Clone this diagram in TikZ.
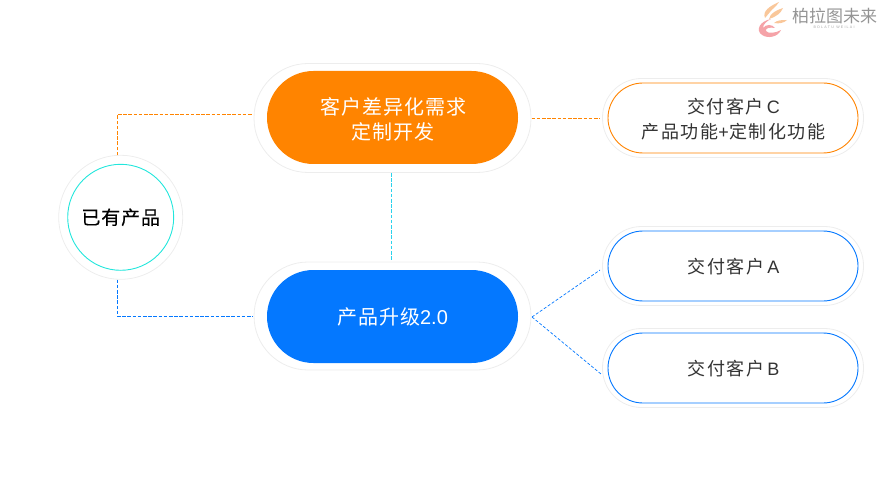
\documentclass[tikz,border=0pt]{standalone}
\usepackage{fontspec}
\setmainfont{Noto Sans CJK SC}
\newfontfamily\bigf[LetterSpace=5]{Noto Sans CJK SC}
\newfontfamily\smallf[LetterSpace=8.5]{Noto Sans CJK SC}
\newfontfamily\boldf[FakeBold=0.25,LetterSpace=4.5]{Noto Sans CJK SC}
\newfontfamily\latf{Liberation Sans}
\begin{document}
\begin{tikzpicture}[x=1pt,y=-1pt,
  halo/.style={draw=black!7,line width=0.8pt,fill=white,rounded corners=#1},
  ring/.style={line width=0.9pt,fill=white},
  conn/.style={line width=0.8pt,dash pattern=on 3.6pt off 1.6pt},
  thinconn/.style={line width=0.7pt,dash pattern=on 3pt off 1.8pt},
  lbl/.style={align=center,inner sep=0pt,font=\fontsize{20}{25}\selectfont\bigf},
  lbs/.style={align=center,inner sep=0pt,text=black!80,font=\fontsize{18}{25.5}\selectfont\smallf}]
\definecolor{org}{HTML}{FF8400}
\definecolor{blu}{HTML}{0478FF}
\definecolor{cya}{HTML}{22E6DC}
\definecolor{vcy}{HTML}{2BD2EC}
\definecolor{lgo}{HTML}{F9C79A}
\definecolor{lgp}{HTML}{F5A3A8}
\useasboundingbox (0,0) rectangle (882,486);
% circle
\node[circle,draw=black!7,line width=0.8pt,minimum size=124pt,inner sep=0pt] (ch) at (120.7,217.3) {};
\node[circle,draw=cya,line width=0.9pt,minimum size=106pt,inner sep=0pt,font=\fontsize{19}{20}\selectfont\boldf] (c) at (120.7,217.3) {已有产品};
% big pills
\draw[halo=54pt] (254,63.5) rectangle (531,172.5);
\fill[org,rounded corners=46.5pt] (267,71) rectangle (518,164);
\node[lbl,text=white] (o) at (393,119) {客户差异化需求\\定制开发};
\draw[halo=54pt] (254,262) rectangle (531,370);
\fill[blu,rounded corners=46.5pt] (267,270) rectangle (518,363);
\node[lbl,text=white] (b) at (392.5,317) {产品升级{\latf 2.0}};
% small pills
\draw[halo=39pt] (602.5,78.5) rectangle (863.5,157.5);
\draw[ring,draw=org,rounded corners=35pt] (608,83) rectangle (858,153);
\node[lbs] (pc) at (733.5,119) {交付客户{\latf\,C}\\产品功能{\latf +}定制化功能};
\draw[halo=39pt] (602.5,226.5) rectangle (863.5,305.5);
\draw[ring,draw=blu,rounded corners=35pt] (608,231) rectangle (858,301);
\node[lbs] (pa) at (733.5,267) {交付客户{\latf\,A}};
\draw[halo=39pt] (602.5,328.5) rectangle (863.5,407.5);
\draw[ring,draw=blu,rounded corners=35pt] (608,333) rectangle (858,403);
\node[lbs] (pb) at (733.5,369) {交付客户{\latf\,B}};
% connector ends
\coordinate (c1) at (117.5,155.5);
\coordinate (c2) at (117.5,279.5);
\coordinate (o1) at (251.5,114.3);
\coordinate (b1) at (252.5,316.5);
\coordinate (o2) at (531.5,118.3);
\coordinate (pc1) at (600,118.3);
\coordinate (b2) at (532,317);
\coordinate (pa1) at (600,270);
\coordinate (pb1) at (601,374);
\coordinate (ov) at (391.5,173);
\coordinate (bv) at (391.5,261);
\draw[conn,org] (c1) |- (o1);
\draw[conn,blu] (c2) |- (b1);
\draw[conn,org] (o2) -- (pc1);
\draw[thinconn,blu] (b2) -- (pa1);
\draw[thinconn,blu] (b2) -- (pb1);
\draw[conn,vcy] (ov) -- (bv);
% logo
\fill[lgp] (771,19) .. controls (760,21) and (755,30) .. (762,35) .. controls (768,39) and (778,37) .. (781,30) .. controls (776,33) and (768,34) .. (766,31) .. controls (765,28) and (770,27) .. (775,28) .. controls (772,24) and (766,24) .. (763,28) .. controls (763,24) and (767,21) .. (771,19) -- cycle;
\fill[lgo] (765,18) .. controls (762,11) and (770,6) .. (779,2) .. controls (776,7) and (772,9) .. (770,12) .. controls (768,14) and (767,16) .. (765,18) -- cycle;
\fill[lgo] (769,19) .. controls (770,13) and (777,10) .. (783,8) .. controls (781,13) and (776,17) .. (769,19) -- cycle;
\fill[lgo] (774,23) .. controls (777,20) and (782,20) .. (787,20) .. controls (784,23) and (779,24) .. (774,23) -- cycle;
\node[inner sep=0pt,text=black!42,font=\fontsize{17}{17}\selectfont] (lg) at (834.5,16) {柏拉图未来};
\node[inner sep=0pt,text=black!35,font=\fontsize{3.6}{4}\selectfont\latf] (lt) at (834,27.5) {B\,\,O\,\,L\,\,A\,\,T\,\,U\,\,\,\,W\,\,E\,\,I\,\,L\,\,A\,\,I};
\end{tikzpicture}
\end{document}
